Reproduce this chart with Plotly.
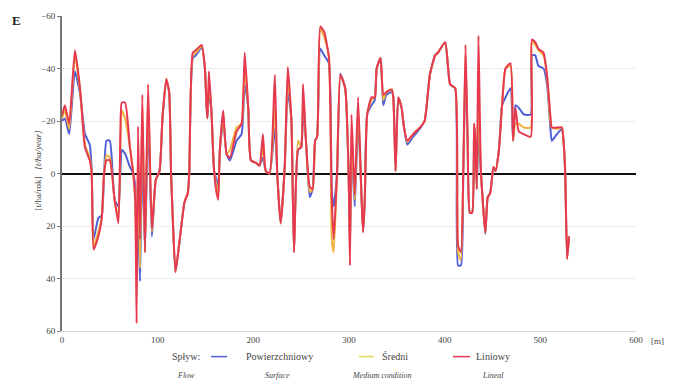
import plotly.graph_objects as go

# distance [m]
x_m = [0, 3, 7.5, 13.5, 19, 24, 29, 31, 33, 38, 41.5, 44, 46.5, 50, 55, 59, 61, 62.5, 66, 71,
       74.5, 76.5, 78, 79.5, 81.5, 84, 86.7, 90, 94, 98, 102, 105, 109, 112, 114, 116, 118.6,
       122.8, 128, 131.5, 133, 136.7, 140, 146, 149.4, 151, 152, 153.6, 156, 159, 161.6, 163.3,
       165, 168.5, 172, 175.5, 182.5, 187.7, 191, 194.7, 197.5, 203, 206.5, 210, 213, 217,
       222.5, 225, 228.6, 232.8, 236, 239.7, 242.5, 246.7, 250, 252, 255, 258.9, 262, 264.6,
       266.7, 270, 274, 279, 282, 284, 287.5, 291, 296, 299.6, 301, 302.6, 306, 309.5, 313,
       314.7, 316.5, 319, 323.5, 327, 328.9, 333, 335.8, 339, 344.6, 346.3, 348.7, 351.5, 355,
       357.5, 361, 367, 374, 379, 384.5, 390, 393, 400.5, 405.7, 411, 414, 417, 419.4, 421.8,
       424, 426.3, 428.7, 430.8, 432, 433.6, 435.3, 438, 442.5, 445, 447.6, 451, 453.2, 456.7,
       460, 463.6, 468.8, 471.5, 474, 477.5, 482.7, 490, 491.2, 494.7, 498, 503.3, 507, 510.4,
       512, 517.3, 522.5, 524.3, 526, 528, 530]

liniowy = [-22, -26, -19, -47, -32, -10, -5, 0, 29, 24, 17.5, 0, -5, -5, 10, 19, -15, -27, -27, -10,
           0, 10, 57, -18, 25, -30, 30, -34, 21, 2.5, -1, -21, -36, -31, 0, 19, 37.5,
           26, 11, 7.5, 0, -46, -47, -49, -40, -26, -21, -39, -25, -1, 7.5, 10,
           -9, -24, -7.5, -6, -16, -19, -46, -25, -5, -4, -3, -15, -1, 0,
           -37.5, 0, 19, -2.5, -40.6, -21, 30, -9, -10, -34, -12.5, 5, 6, -12.5,
           -14, -56, -54, -44, 10, 25, 0, -37.5, -32.5, 0, 35, -22.5, 8, -29, 8,
           22.5, 10, -22.5, -29, -29, -40, -44, -30, -31, -32, -29, -1, -29, -25,
           -17.5, -12.5, -15, -17.5, -20, -37.5, -45, -46, -50, -34, -32.5, 27.5, 30, 0, -49,
           -12.5, 15, 15, -19, -12.5, 6, -52.5, 0, 22.5, 9, 7.5, -2.5, -1, -9,
           -26, -40, -42, -12.5, -25, -16, -15, -14, -51, -50, -47.5, -46, -37.5, -22.5,
           -17.5, -17.5, -17.5, -12, 0, 32.5, 24]

sredni = [-21, -24, -17, -45, -31, -11, -6, 0, 28, 22, 17, 0, -7, -6, 10, 17, -10, -24, -21, -10,
          0, 10, 40, -10, 36, -25, 30, -30, 22, 2.5, -1, -21, -36, -31, 0, 19, 37.5,
          26, 11, 7.5, 0, -45, -46, -48.5, -40, -26, -21, -34, -25, -1, 5, 8,
          -9, -22, -7.5, -9, -17.5, -19, -40, -25, -5, -4, -3, -10, -1, 0,
          -25, 0, 19, -2.5, -36, -21, 30, -12.5, -10, -30, -12.5, 7, 6, -12.5,
          -14, -55, -52, -45, 25, 30, 0, -37.5, -32.5, 0, 30, -15, 10, -25, 8,
          22, 10, -22.5, -28, -29, -40, -44, -28, -31, -32, -29, -1, -29, -25,
          -17.5, -12, -15, -17.5, -20, -37.5, -45, -46, -50, -34, -32.5, 30, 33, 0, -45,
          -12.5, 15, 15, -19, -12.5, 6, -30, 0, 22.5, 9, 7.5, -2.5, -1, -9,
          -26, -40, -41, -12.5, -19, -19, -17.5, -17.5, -50, -49, -47, -45, -37, -20,
          -17.5, -17, -17.5, -12, 0, 32.5, 24]

powierzchniowy = [-20, -21, -15, -39, -30, -15, -11, -2, 25, 17, 16, 0, -12.5, -12.5, 10, 12.5, 0, -9, -7.5, -2.5,
                  0, 5, 30, 15, 41, -10, 30, -20, 24, 2.5, -1, -21, -35, -31, 0, 19, 37.5,
                  26, 11, 7.5, 0, -44, -45, -48, -40, -26, -21, -30, -25, -1, 2.5, 5,
                  -9, -20, -7.5, -5, -12.5, -15, -34, -25, -5, -4, -3, -6, -1, 0,
                  -17.5, 0, 19, -2.5, -31, -21, 30, -9, -10, -25, -12.5, 9, 6, -12.5,
                  -14, -47.5, -45, -42, 7.5, 12.5, 0, -38, -32.5, 0, 28, -10, 12.5, -20, 8,
                  22, 10, -22.5, -26, -28, -40, -44, -26, -30, -31, -29, -1, -29, -25,
                  -17.5, -11, -14, -17, -20, -37.5, -45, -46, -50, -34, -32.5, 35, 35, 0, -40,
                  -12.5, 15, 15, -19, -12.5, 6, -14, 0, 23, 9, 7.5, -2.5, -1, -9,
                  -26, -29, -32.5, -12.5, -26, -25, -22.5, -22.5, -45, -45, -41, -40, -34, -18,
                  -12.5, -15, -17, -12, 0, 32.5, 24]

x_ticks = [0, 100, 200, 300, 400, 500, 600]
x_ticktext = ["0", "100", "200", "300", "400", "500", "600"]
y_ticks = [-60, -40, -20, 0, 20, 40, 60]

FONT = "Liberation Serif"
C_P = "#4f5fd6"
C_S = "#f0b33c"
C_L = "#e6384f"

fig = go.Figure()
for name, ys, col, w in [("Powierzchniowy", powierzchniowy, C_P, 2.0),
                         ("Średni", sredni, C_S, 2.0),
                         ("Liniowy", liniowy, C_L, 2.0)]:
    fig.add_trace(go.Scatter(x=x_m, y=ys, mode="lines", name=name,
                             line=dict(color=col, width=w, shape="spline", smoothing=0.5),
                             showlegend=False, hoverinfo="skip"))

L, R, T, B = 62, 37, 11, 51
W, H = 673, 382
pw, ph = W - L - R, H - T - B

def px2paper(px, py):
    return (px - L) / pw, (H - B - py) / ph

fig.update_layout(
    width=W, height=H,
    margin=dict(l=L, r=R, t=T, b=B),
    paper_bgcolor="white", plot_bgcolor="white",
    font=dict(family=FONT, size=10, color="#333"),
    xaxis=dict(range=[0, 600], tickvals=x_ticks, ticktext=x_ticktext,
               showgrid=False, zeroline=False, showline=True, linecolor="#d8d8d8",
               linewidth=1, ticks="", tickfont=dict(size=9, color="#444")),
    yaxis=dict(range=[60, -60], tickvals=y_ticks, showgrid=True, gridcolor="#ececec",
               gridwidth=1, zeroline=True, zerolinecolor="#111", zerolinewidth=1.5,
               showline=True, linecolor="#777", linewidth=2, ticks="outside",
               ticklen=3, tickcolor="#777", tickfont=dict(size=9, color="#444")),
)

anns = []
def ann(text, px, py, size=10, xanchor="left", color="#444", angle=0):
    ax, ay = px2paper(px, py)
    anns.append(dict(text=text, x=ax, y=ay, xref="paper", yref="paper",
                     xanchor=xanchor, yanchor="middle", showarrow=False, textangle=angle,
                     font=dict(family=FONT, size=size, color=color)))

ann("<b>E</b>", 10, 16, size=13, color="#222")
ann("[m]", 649, 341, size=9)
ann("[t/ha/rok]   <i>[t/ha/year]</i>", 38, 168, size=9, xanchor="center", angle=-90)
ann("Spływ:", 170, 357)
ann("Powierzchniowy", 244, 357)
ann("Średni", 380, 357)
ann("Liniowy", 474, 357)
ann("<i>Flow</i>", 175, 376, size=8)
ann("<i>Surface</i>", 263, 376, size=8)
ann("<i>Medium condition</i>", 350, 376, size=8)
ann("<i>Lineal</i>", 480, 376, size=8)
fig.update_layout(annotations=anns)

shapes = []
for (x0, x1, col) in [(211, 227, C_P), (359, 374, "#e0d850"), (453, 470, C_L)]:
    a0, b0 = px2paper(x0, 357)
    a1, _ = px2paper(x1, 357)
    shapes.append(dict(type="line", xref="paper", yref="paper", x0=a0, x1=a1, y0=b0, y1=b0,
                       line=dict(color=col, width=1.5)))
fig.update_layout(shapes=shapes)

fig.write_html("out.html", config={"displayModeBar": False},
               post_script="document.body.style.margin='0';document.body.style.overflow='hidden';")
